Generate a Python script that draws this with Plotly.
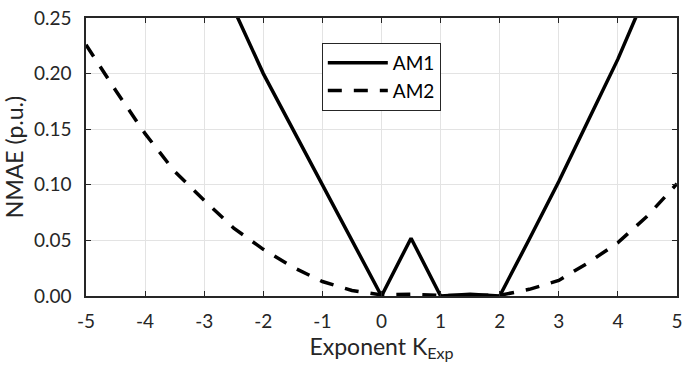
import plotly.graph_objects as go

k_exp = [-5, -4.5, -4, -3.5, -3, -2.5, -2, -1.5, -1, -0.5, 0, 0.5, 1, 1.5, 2, 2.5, 3, 3.5, 4, 4.5, 5]
am1 = [0.55, 0.49, 0.43, 0.375, 0.318, 0.258, 0.2, 0.15, 0.1, 0.05, 0.0, 0.052, 0.0, 0.0015, 0.0,
       0.051, 0.103, 0.158, 0.213, 0.275, 0.34]
am2 = [0.226, 0.185, 0.146, 0.112, 0.086, 0.061, 0.042, 0.026, 0.013, 0.005, 0.001, 0.0015, 0.0005,
       0.0004, 0.0006, 0.006, 0.014, 0.030, 0.048, 0.072, 0.101]

x_ticks = [-5, -4, -3, -2, -1, 0, 1, 2, 3, 4, 5]
y_ticks = [0.0, 0.05, 0.10, 0.15, 0.20, 0.25]

font_family = "Lato, 'Open Sans', sans-serif"
axis_color = "#262626"

fig = go.Figure()
fig.add_trace(go.Scatter(x=k_exp, y=am1, mode="lines", name="AM1",
                         line=dict(color="black", width=3.5)))
fig.add_trace(go.Scatter(x=k_exp, y=am2, mode="lines", name="AM2",
                         line=dict(color="black", width=3.5, dash="14px,12px")))

fig.update_layout(
    width=689, height=369,
    margin=dict(l=86, r=6, t=13, b=73),
    paper_bgcolor="white", plot_bgcolor="white",
    font=dict(family=font_family, size=18, color=axis_color),
    showlegend=True,
    legend=dict(x=0.399, y=0.91, xanchor="left", yanchor="top",
                bgcolor="white", bordercolor=axis_color, borderwidth=1,
                font=dict(size=19, color="black"), tracegroupgap=0,
                itemwidth=60),
)
fig.update_xaxes(range=[-5, 5], tickvals=x_ticks, ticktext=[str(v) for v in x_ticks],
                 showgrid=True, gridcolor="#e3e3e3", gridwidth=1,
                 showline=True, linecolor=axis_color, linewidth=1.5, mirror="ticks",
                 ticks="inside", ticklen=5, tickcolor=axis_color, zeroline=False,
                 ticklabelstandoff=7, tickfont=dict(size=19),
                 title=dict(text="Exponent K<sub>Exp</sub>", standoff=2,
                            font=dict(size=23)))
fig.update_yaxes(range=[0, 0.25], tickvals=y_ticks, tickformat=".2f",
                 showgrid=True, gridcolor="#e3e3e3", gridwidth=1,
                 showline=True, linecolor=axis_color, linewidth=1.5, mirror="ticks",
                 ticks="inside", ticklen=5, tickcolor=axis_color, zeroline=False,
                 ticklabelstandoff=9, tickfont=dict(size=19),
                 title=dict(text="NMAE (p.u.)", standoff=4, font=dict(size=23)))

fig.write_html("out.html")
